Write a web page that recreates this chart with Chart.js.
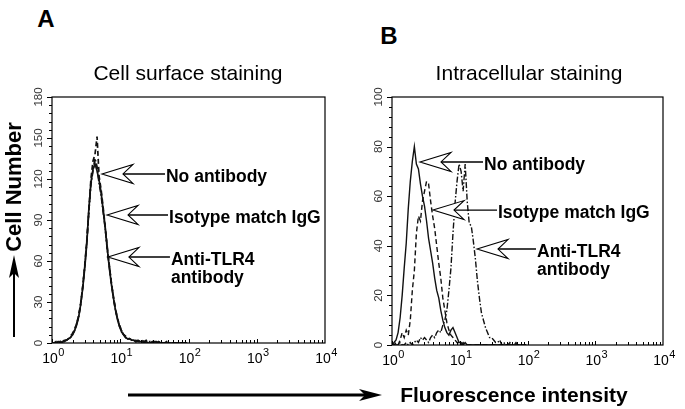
<!DOCTYPE html>
<html>
<head>
<meta charset="utf-8">
<script src="https://cdn.jsdelivr.net/npm/chart.js@4.4.0/dist/chart.umd.min.js"></script>
<style>
  body { margin: 0; background: #fff; width: 685px; height: 409px; overflow: hidden; position: relative;
         font-family: "Liberation Sans", Arial, sans-serif; color: #000; }
  .lbl { position: absolute; white-space: nowrap; line-height: 30px; transform: translate(-50%, -50%); }
  canvas { position: absolute; }
  svg { position: absolute; left: 0; top: 0; }
</style>
</head>
<body>
<canvas id="chartA" width="345" height="300" style="left:0;top:80px"></canvas>
<canvas id="chartB" width="345" height="300" style="left:340px;top:80px"></canvas>

<div class="lbl" style="left:46px;top:19px;font-size:24px;font-weight:bold">A</div>
<div class="lbl" style="left:389px;top:36px;font-size:24px;font-weight:bold">B</div>
<div class="lbl" style="left:188px;top:73px;font-size:21px">Cell surface staining</div>
<div class="lbl" style="left:529px;top:73px;font-size:21px">Intracellular staining</div>
<div class="lbl" style="left:14px;top:187px;font-size:22px;font-weight:bold;transform:translate(-50%,-50%) rotate(-90deg)">Cell Number</div>
<div class="lbl" style="left:514px;top:395px;font-size:21px;font-weight:bold">Fluorescence intensity</div>

<svg width="685" height="409">
  <line x1="14" y1="337" x2="14" y2="272" stroke="#000" stroke-width="2"/>
  <polygon points="14,255 9,278 14,273 19,278" fill="#000"/>
  <line x1="128" y1="395" x2="366" y2="395" stroke="#000" stroke-width="3"/>
  <polygon points="382,395 359,389 365,395 359,401" fill="#000"/>
</svg>

<script>
// fluorescence channel values (log spaced)
const channels = [1, 1.072, 1.148, 1.230, 1.318, 1.413, 1.514, 1.622, 1.738, 1.862,
  1.995, 2.138, 2.291, 2.455, 2.630, 2.818, 3.020, 3.236, 3.467, 3.715,
  3.981, 4.266, 4.571, 4.898, 5.248, 5.623, 6.026, 6.457, 6.918, 7.413,
  7.943, 8.511, 9.120, 9.772, 10.47, 11.22, 12.02, 12.88, 13.80, 14.79,
  15.85, 16.98, 18.20, 19.50, 20.89, 22.39, 23.99, 25.70, 27.54, 29.51,
  31.62, 33.88, 36.31, 38.90, 41.69, 44.67, 47.86, 51.29, 54.95, 58.88,
  63.10, 67.61, 72.44, 77.62, 83.18, 89.13, 95.50];

// A: cell surface staining
const surfaceNoAb = [0,0,0,1,0,1,1,2,3,4, 6,9,13,19,28,40,55,73,98,117,
  127,131,126,119,110,97,84,69,55,43, 33,24,17,12,8,6,4,3,3,2,
  2,1,2,1,1,0,1,0,0,0, 0,0,0,0,0,0,0,0,0,0, 0,0,0,0,0,0,0];
const surfaceIso = [0,0,1,0,1,0,2,2,3,5, 7,10,14,20,29,41,57,75,96,120,
  133,138,151,122,112,99,85,70,57,44, 34,25,18,13,9,6,5,3,3,2,
  2,2,1,1,2,1,1,1,0,1, 0,0,1,0,0,0,0,0,0,0, 0,0,0,0,0,0,0];
const surfaceTlr4 = [0,0,0,1,1,1,2,2,3,4, 6,9,14,19,28,41,56,74,97,116,
  126,135,129,117,108,96,84,68,56,44, 33,24,18,12,9,6,4,4,3,2,
  2,1,2,1,1,1,2,1,1,0, 1,1,0,1,0,0,1,0,0,0, 0,0,0,0,0,0,0];

// B: intracellular staining
const intraNoAb = [0,1,2,5,11,20,31,41,55,66, 74,80,73,71,65,60,56,50,43,38,
  33,27,22,19,14,10,7,5,4,6, 7,5,3,1,1,0,1,0,0,0,
  0,0,0,0,0,0,0,0,0,0, 0,0,0,0,0,0,0,0,0,0, 0,0,0,0,0,0,0];
const intraIso = [0,0,1,0,2,5,3,6,4,10, 22,30,45,52,50,58,62,66,65,58,
  52,47,40,33,27,19,14,9,6,4, 3,2,1,1,0,1,0,0,0,0,
  0,0,0,0,0,0,0,0,0,0, 0,0,0,0,0,0,0,0,0,0, 0,0,0,0,0,0,0];
const intraTlr4 = [0,0,0,0,1,0,0,1,0,1, 0,1,2,1,3,2,3,2,1,3,
  4,3,5,6,5,8,10,14,22,31, 45,57,66,73,70,62,73,58,49,48,
  42,35,26,19,13,10,7,5,3,3, 2,1,1,2,0,1,0,0,1,0, 0,1,0,0,0,0,0];

const seriesNames = ['No antibody', 'Isotype match IgG', 'Anti-TLR4 antibody'];
const noteLabels = [['No antibody'], ['Isotype match IgG'], ['Anti-TLR4', 'antibody']];
const xTicks = [1, 10, 100, 1000, 10000];
const yTicksA = [0, 30, 60, 90, 120, 150, 180];
const yTicksB = [0, 20, 40, 60, 80, 100];

const FONT = '"Liberation Sans", Arial, sans-serif';

const framePlugin = {
  id: 'frame',
  afterDatasetsDraw(chart, args, opts) {
    const { ctx, chartArea: a, scales: { x, y } } = chart;
    ctx.save();
    ctx.strokeStyle = '#000';
    ctx.lineWidth = 1.2;
    ctx.strokeRect(a.left, a.top, a.right - a.left, a.bottom - a.top);

    // y axis: outward ticks + rotated labels
    ctx.lineWidth = 1;
    const step = y.ticks[1].value - y.ticks[0].value;
    for (let v = y.min; v <= y.max + 0.001; v += step / 5) {
      const py = Math.round(y.getPixelForValue(v)) + 0.5;
      const major = Math.abs(v / step - Math.round(v / step)) < 0.01;
      ctx.beginPath();
      ctx.moveTo(a.left, py);
      ctx.lineTo(a.left - (major ? 5 : 3), py);
      ctx.stroke();
    }
    ctx.fillStyle = '#333';
    ctx.font = '11.5px ' + FONT;
    ctx.textAlign = 'center';
    ctx.textBaseline = 'middle';
    y.ticks.forEach(t => {
      const py = y.getPixelForValue(t.value);
      ctx.save();
      ctx.translate(a.left - 13, py);
      ctx.rotate(-Math.PI / 2);
      ctx.fillText(String(t.value), 0, 0);
      ctx.restore();
    });

    // x axis: inward minor/major ticks
    ctx.strokeStyle = '#000';
    for (let d = 1; d < 10000; d *= 10) {
      for (let m = 1; m < 10; m++) {
        const px = Math.round(x.getPixelForValue(d * m)) + 0.5;
        ctx.beginPath();
        ctx.moveTo(px, a.bottom);
        ctx.lineTo(px, a.bottom - (m === 1 ? 4 : 3));
        ctx.stroke();
      }
    }
    ctx.fillStyle = '#000';
    ctx.textBaseline = 'alphabetic';
    ctx.textAlign = 'left';
    x.ticks.forEach(t => {
      const px = x.getPixelForValue(t.value);
      const exp = String(Math.round(Math.log10(t.value)));
      ctx.font = '14px ' + FONT;
      const w1 = ctx.measureText('10').width;
      ctx.font = '11px ' + FONT;
      const w2 = ctx.measureText(exp).width;
      const start = px - (w1 + w2) / 2 + 1;
      ctx.font = '14px ' + FONT;
      ctx.fillText('10', start, a.bottom + 20);
      ctx.font = '11px ' + FONT;
      ctx.fillText(exp, start + w1 + 0.5, a.bottom + 13);
    });

    // arrow annotations
    ctx.font = 'bold 17.5px ' + FONT;
    ctx.textBaseline = 'middle';
    (opts.notes || []).forEach((n, i) => {
      const tx = x.getPixelForValue(n.x);
      const ty = y.getPixelForValue(n.y);
      ctx.lineWidth = 1.1;
      ctx.beginPath();
      ctx.moveTo(tx, ty);
      ctx.lineTo(tx + 31, ty - 9.5);
      ctx.lineTo(tx + 21, ty);
      ctx.lineTo(tx + 31, ty + 9.5);
      ctx.closePath();
      ctx.fillStyle = '#fff';
      ctx.fill();
      ctx.stroke();
      ctx.lineWidth = 1.4;
      ctx.beginPath();
      ctx.moveTo(tx + 21, ty);
      ctx.lineTo(tx + n.shaft, ty);
      ctx.stroke();
      ctx.fillStyle = '#000';
      noteLabels[i].forEach((line, k) => {
        ctx.fillText(line, tx + n.shaft + 1, ty + 3 + k * 18);
      });
    });
    ctx.restore();
  }
};

const styles = [
  { borderDash: [] },
  { borderDash: [5, 3] },
  { borderDash: [6, 2, 1.5, 2] }
];

function makeChart(id, series, yTicks, width, notes, pad) {
  return new Chart(document.getElementById(id), {
    type: 'line',
    data: {
      datasets: series.map((vals, i) => ({
        label: seriesNames[i],
        data: channels.map((c, k) => ({ x: c, y: vals[k] })),
        borderColor: '#111',
        borderWidth: width,
        borderDash: styles[i].borderDash,
        pointRadius: 0,
        tension: 0,
        fill: false
      }))
    },
    options: {
      responsive: false,
      animation: false,
      layout: { padding: pad },
      plugins: {
        legend: { display: false },
        tooltip: { enabled: false },
        frame: { notes: notes }
      },
      scales: {
        x: {
          type: 'logarithmic', min: 1, max: 10000,
          afterBuildTicks: s => { s.ticks = xTicks.map(v => ({ value: v })); },
          ticks: { display: false }, grid: { display: false, drawTicks: false }, border: { display: false }
        },
        y: {
          min: yTicks[0], max: yTicks[yTicks.length - 1],
          afterBuildTicks: s => { s.ticks = yTicks.map(v => ({ value: v })); },
          ticks: { display: false }, grid: { display: false, drawTicks: false }, border: { display: false }
        }
      }
    },
    plugins: [framePlugin]
  });
}

makeChart('chartA', [surfaceNoAb, surfaceIso, surfaceTlr4], yTicksA, 1.7, [
  { x: 5.4, y: 123.7, shaft: 63 },
  { x: 6.4, y: 93.7, shaft: 61 },
  { x: 6.6, y: 62.9, shaft: 62 }
], { left: 52, right: 20, top: 17, bottom: 37 });

makeChart('chartB', [intraNoAb, intraIso, intraTlr4], yTicksB, 1.4, [
  { x: 2.59, y: 73.8, shaft: 63 },
  { x: 4.03, y: 54.4, shaft: 64 },
  { x: 17.98, y: 38.7, shaft: 59 }
], { left: 52, right: 22, top: 17, bottom: 35 });
</script>
</body>
</html>
